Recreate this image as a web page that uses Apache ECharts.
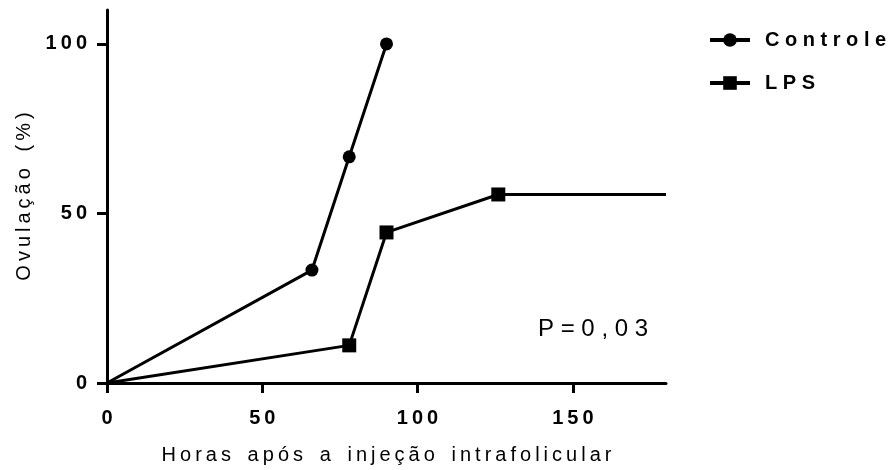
<!DOCTYPE html>
<html><head><meta charset="utf-8">
<script src="https://cdn.jsdelivr.net/npm/echarts@6/dist/echarts.min.js"></script>
<style>html,body{margin:0;padding:0;background:#fff}#c{width:889px;height:470px}</style>
</head><body><div id="c"></div>
<script>
// ---- data ----
const controleHours = [0, 66, 78, 90];
const controleOvul = [0, 33.3, 66.7, 100];
const lpsHours = [0, 78, 90, 126, 180];
const lpsOvul = [0, 11.1, 44.4, 55.6, 55.6];
const xTicks = [0, 50, 100, 150];
const yTicks = [0, 50, 100];
const seriesNames = ['Controle', 'LPS'];
const xTitle = 'Horas após a injeção intrafolicular';
const yTitle = 'Ovulação (%)';
const pText = 'P=0,03';

const X_MAX = 180, Y_MAX = 110;
const FONT = '"Liberation Sans", Arial, sans-serif';
const THIN = '\u2009';

function spaced(s, gap, wordGap) {
  gap = gap || ' ';
  return s.split(' ').map(w => w.split('').join(gap)).join(wordGap || '   ');
}
function buildData(xs, ys) {
  return xs.map((x, i) => {
    const item = { value: [x, ys[i]] };
    if (i === 0 || x >= X_MAX) item.symbol = 'none';
    return item;
  });
}

const chart = echarts.init(document.getElementById('c'), null, { renderer: 'canvas' });
const axisCommon = {
  axisLine: { show: true, onZero: false, lineStyle: { color: '#000', width: 3 } },
  axisTick: { show: true, length: 10, lineStyle: { color: '#000', width: 3 } },
  splitLine: { show: false },
  nameTextStyle: { color: '#000', fontFamily: FONT, fontSize: 20, fontWeight: 'normal' }
};
chart.setOption({
  animation: false,
  backgroundColor: '#fff',
  grid: { left: 107, right: 223, top: 10, bottom: 87, containLabel: false, outerBoundsMode: 'none' },
  legend: {
    left: 703, top: 25, orient: 'vertical',
    itemWidth: 40, itemHeight: 17, itemGap: 23,
    data: seriesNames,
    lineStyle: { width: 4 },
    textStyle: { color: '#000', fontFamily: FONT, fontSize: 20, fontWeight: 'bold', padding: [0, 0, 0, 10] },
    formatter: n => spaced(n, ' ')
  },
  xAxis: Object.assign({}, axisCommon, {
    type: 'value', min: 0, max: X_MAX, interval: 50,
    name: spaced(xTitle, THIN, '   '), nameLocation: 'middle', nameGap: 62,
    axisTick: Object.assign({}, axisCommon.axisTick, { customValues: xTicks }),
    axisLabel: { customValues: xTicks, margin: 25, color: '#000', fontFamily: FONT, fontSize: 20, fontWeight: 'bold', formatter: v => spaced(String(v), THIN) }
  }),
  yAxis: Object.assign({}, axisCommon, {
    type: 'value', min: 0, max: Y_MAX, interval: 50,
    name: spaced(yTitle, THIN, '   '), nameLocation: 'middle', nameGap: 67,
    axisTick: Object.assign({}, axisCommon.axisTick, { customValues: yTicks }),
    axisLabel: { customValues: yTicks, margin: 20, color: '#000', fontFamily: FONT, fontSize: 20, fontWeight: 'bold', formatter: v => spaced(String(v), THIN) }
  }),
  graphic: [{
    type: 'text', left: 538, top: 317,
    style: { text: spaced(pText, ' '), font: 'normal 24px ' + FONT, fill: '#000' }
  }],
  series: [
    {
      name: seriesNames[0], type: 'line', data: buildData(controleHours, controleOvul),
      symbol: 'circle', symbolSize: 13, showAllSymbol: true,
      lineStyle: { color: '#000', width: 3 }, itemStyle: { color: '#000' }
    },
    {
      name: seriesNames[1], type: 'line', data: buildData(lpsHours, lpsOvul),
      symbol: 'rect', symbolSize: 14, showAllSymbol: true,
      lineStyle: { color: '#000', width: 3 }, itemStyle: { color: '#000' }
    }
  ]
});
</script></body></html>
